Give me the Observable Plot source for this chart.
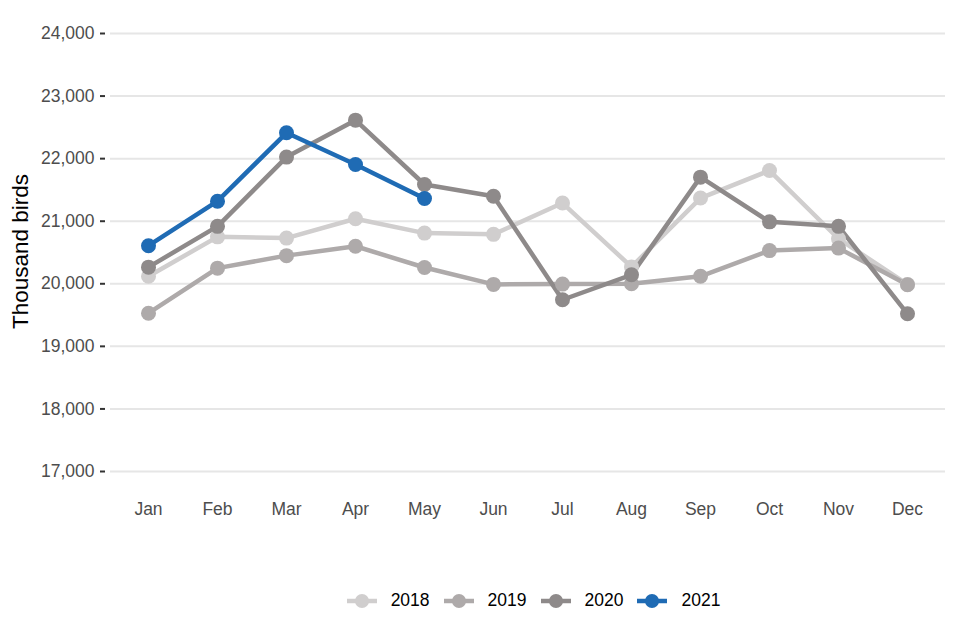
<!DOCTYPE html>
<html>
<head>
<meta charset="utf-8">
<script src="https://cdn.jsdelivr.net/npm/d3@7"></script>
<script src="https://cdn.jsdelivr.net/npm/@observablehq/plot@0.6"></script>
<style>
  body { margin: 0; background: #fff; font-family: "Liberation Sans", Arial, sans-serif; }
  #legend { display: flex; justify-content: center; align-items: center; padding-left: 107px; margin-top: 30px; font-size: 17.5px; color: #000; }
  .item { display: flex; align-items: center; margin: 0 7px; }
  .item svg { margin-right: 14px; }
</style>
</head>
<body>
<div id="chart"></div>
<div id="legend"></div>
<script>
const months = ["Jan","Feb","Mar","Apr","May","Jun","Jul","Aug","Sep","Oct","Nov","Dec"];
const years = ["2018","2019","2020","2021"];
const colors = ["#d0cece","#aeaaaa","#8e8a8a","#1f6bb4"];
const yTicks = [17000,18000,19000,20000,21000,22000,23000,24000];
const v2018 = [20120,20750,20730,21040,20810,20790,21290,20270,21370,21810,20720,19990];
const v2019 = [19530,20250,20450,20600,20260,19990,19995,20000,20120,20530,20570,19985];
const v2020 = [20266,20918,22025,22615,21587,21399,19745,20144,21704,20990,20918,19520];
const v2021 = [20609,21320,22413,21907,21362];

const series = [v2018, v2019, v2020, v2021];
const data = [];
series.forEach((vals, i) => vals.forEach((v, j) => data.push({year: years[i], month: months[j], value: v})));

const chart = Plot.plot({
  width: 960,
  height: 560,
  marginTop: 33,
  marginBottom: 89,
  marginLeft: 110,
  marginRight: 15,
  style: {fontFamily: "'Liberation Sans', Arial, sans-serif", fontSize: "17.5px", background: "#fff"},
  x: {type: "point", domain: months, padding: 0.53},
  y: {domain: [17000, 24000]},
  color: {domain: years, range: colors},
  marks: [
    Plot.gridY(yTicks, {stroke: "#e6e6e6", strokeOpacity: 1, strokeWidth: 2}),
    Plot.axisY(yTicks, {tickFormat: d3.format(","), tickSize: 5, dx: -5, tickPadding: 6, stroke: "#333", strokeWidth: 2, fill: "#4d4d4d", label: null}),
    Plot.axisX({tickSize: 0, tickPadding: 31, fill: "#4d4d4d", label: null}),
    Plot.line(data, {x: "month", y: "value", z: "year", stroke: "year", strokeWidth: 4.5}),
    Plot.dot(data, {x: "month", y: "value", fill: "year", r: 7.5}),
    Plot.text(["Thousand birds"], {frameAnchor: "left", textAnchor: "middle", rotate: -90, dx: -90, dy: -1, fontSize: 22.5, fill: "#000"})
  ]
});
document.getElementById("chart").appendChild(chart);

const legend = document.getElementById("legend");
years.forEach((y, i) => {
  const item = document.createElement("div");
  item.className = "item";
  item.innerHTML = `<svg width="30" height="16"><line x1="0" x2="30" y1="8" y2="8" stroke="${colors[i]}" stroke-width="4.5"/><circle cx="15" cy="8" r="7" fill="${colors[i]}"/></svg><span>${y}</span>`;
  legend.appendChild(item);
});
</script>
</body>
</html>
